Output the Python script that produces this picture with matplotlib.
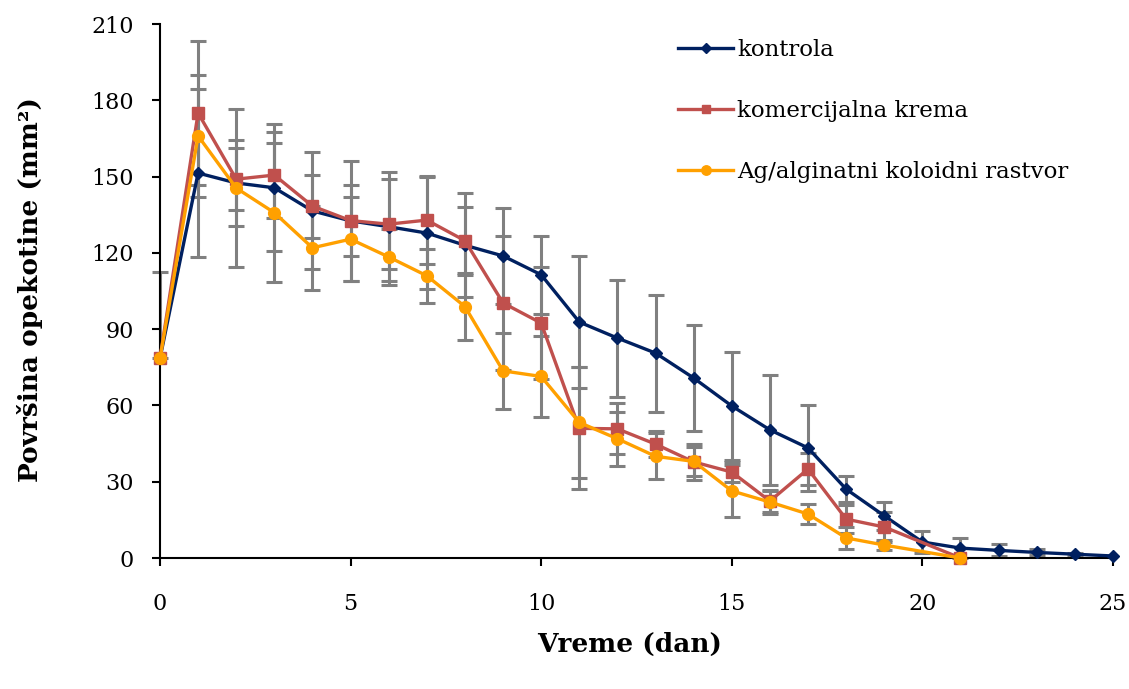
import matplotlib
matplotlib.use("Agg")
import matplotlib.pyplot as plt

# Burn wound area over time for three treatment groups (mean ± SD)
days_ctrl = list(range(0, 26))
ctrl = [78.5, 151.4, 147.5, 145.6, 136.5, 132.6, 130.3, 127.8, 123.0, 118.8,
        111.4, 92.8, 86.5, 80.6, 70.8, 59.8, 50.4, 43.3, 27.1, 16.6,
        6.3, 3.9, 3.0, 2.2, 1.5, 0.8]
ctrl_sd = [34, 33, 17, 25, 23, 23.5, 21.5, 22, 20.4, 19,
           15.3, 26, 23, 23, 21, 21.3, 21.5, 17, 5, 5.6,
           4.4, 3.8, 2.4, 1.2, 0.6, 0]

days_trt = list(range(0, 20)) + [21]
krema = [78.5, 175.0, 149.0, 150.6, 138.4, 132.7, 131.3, 132.9, 124.8, 100.3,
         92.4, 51.0, 50.8, 44.8, 37.8, 33.8, 22.4, 35.0, 15.3, 12.2, 0]
krema_sd = [0, 28.4, 12.1, 17, 12.4, 14, 17.6, 17.3, 13.4, 26.3,
            22, 24, 10, 5, 7, 4, 4.3, 6.2, 5.5, 6, 0]
ag = [78.5, 166.0, 145.5, 135.8, 122.0, 125.4, 118.4, 111.0, 98.9, 73.6,
      71.4, 53.3, 46.9, 40.0, 38.0, 26.4, 22.0, 17.3, 7.9, 5.1, 0]
ag_sd = [0, 24, 31, 27.3, 16.6, 16.5, 11, 10.6, 13, 14.9,
         16, 22, 10.6, 9, 5.8, 10.2, 4.5, 4, 4.4, 2, 0]

labels = ["kontrola", "komercijalna krema", "Ag/alginatni koloidni rastvor"]
colors = ["#002060", "#C0504D", "#FFA000"]

x_ticks = [0, 5, 10, 15, 20, 25]
y_ticks = [0, 30, 60, 90, 120, 150, 180, 210]

plt.rcParams["font.family"] = ["DejaVu Serif"]

fig = plt.figure(figsize=(11.29, 6.89), dpi=100)
ax = fig.add_axes([0.1417, 0.1901, 0.8441, 0.775])

series = [
    (days_ctrl, ctrl, ctrl_sd, "D", 6),
    (days_trt, krema, krema_sd, "s", 8),
    (days_trt, ag, ag_sd, "o", 8.5),
]

err_kw = dict(fmt="none", ecolor="#808080", elinewidth=2.2,
              capsize=6, capthick=2.2, zorder=1, clip_on=False)
for x, y, sd, _, _ in series:
    keep = [i for i, s in enumerate(sd) if s > 0]
    xs = [x[i] for i in keep]
    ys = [y[i] for i in keep]
    # on day 0 the bar sits on the y axis, only its upper half shows
    lower = [0 if x[i] == 0 else sd[i] for i in keep]
    upper = [sd[i] for i in keep]
    ax.errorbar(xs, ys, yerr=[lower, upper], **err_kw)

for i, (x, y, sd, mk, ms) in enumerate(series):
    ax.plot(x, y, color=colors[i], lw=2.4, marker=mk, markersize=ms,
            label=labels[i], zorder=3 + i, clip_on=False)

ax.set_xlim(0, 25)
ax.set_ylim(0, 210)
ax.set_xticks(x_ticks)
ax.set_yticks(y_ticks)

for side in ("top", "right"):
    ax.spines[side].set_visible(False)
for side in ("left", "bottom"):
    ax.spines[side].set_linewidth(1.5)
    ax.spines[side].set_color("black")

ax.tick_params(axis="both", direction="out", length=6, width=1.5,
               labelsize=16, colors="black")
ax.tick_params(axis="x", pad=19)
ax.tick_params(axis="y", pad=13)

ax.set_xlabel("Vreme (dan)", fontsize=19, fontweight="bold")
ax.set_ylabel("Površina opekotine (mm²)", fontsize=19, fontweight="bold")
ax.xaxis.set_label_coords(0.493, -0.139)
ax.yaxis.set_label_coords(-0.123, 0.502)

leg = ax.legend(loc="upper left", bbox_to_anchor=(0.534, 0.99),
                frameon=False, fontsize=16.5, handlelength=2.4,
                handletextpad=0.17, labelspacing=1.72, borderaxespad=0)
for h in leg.legend_handles:
    h.set_markersize(h.get_markersize() * 0.8)

fig.savefig("out.png", dpi=100)
